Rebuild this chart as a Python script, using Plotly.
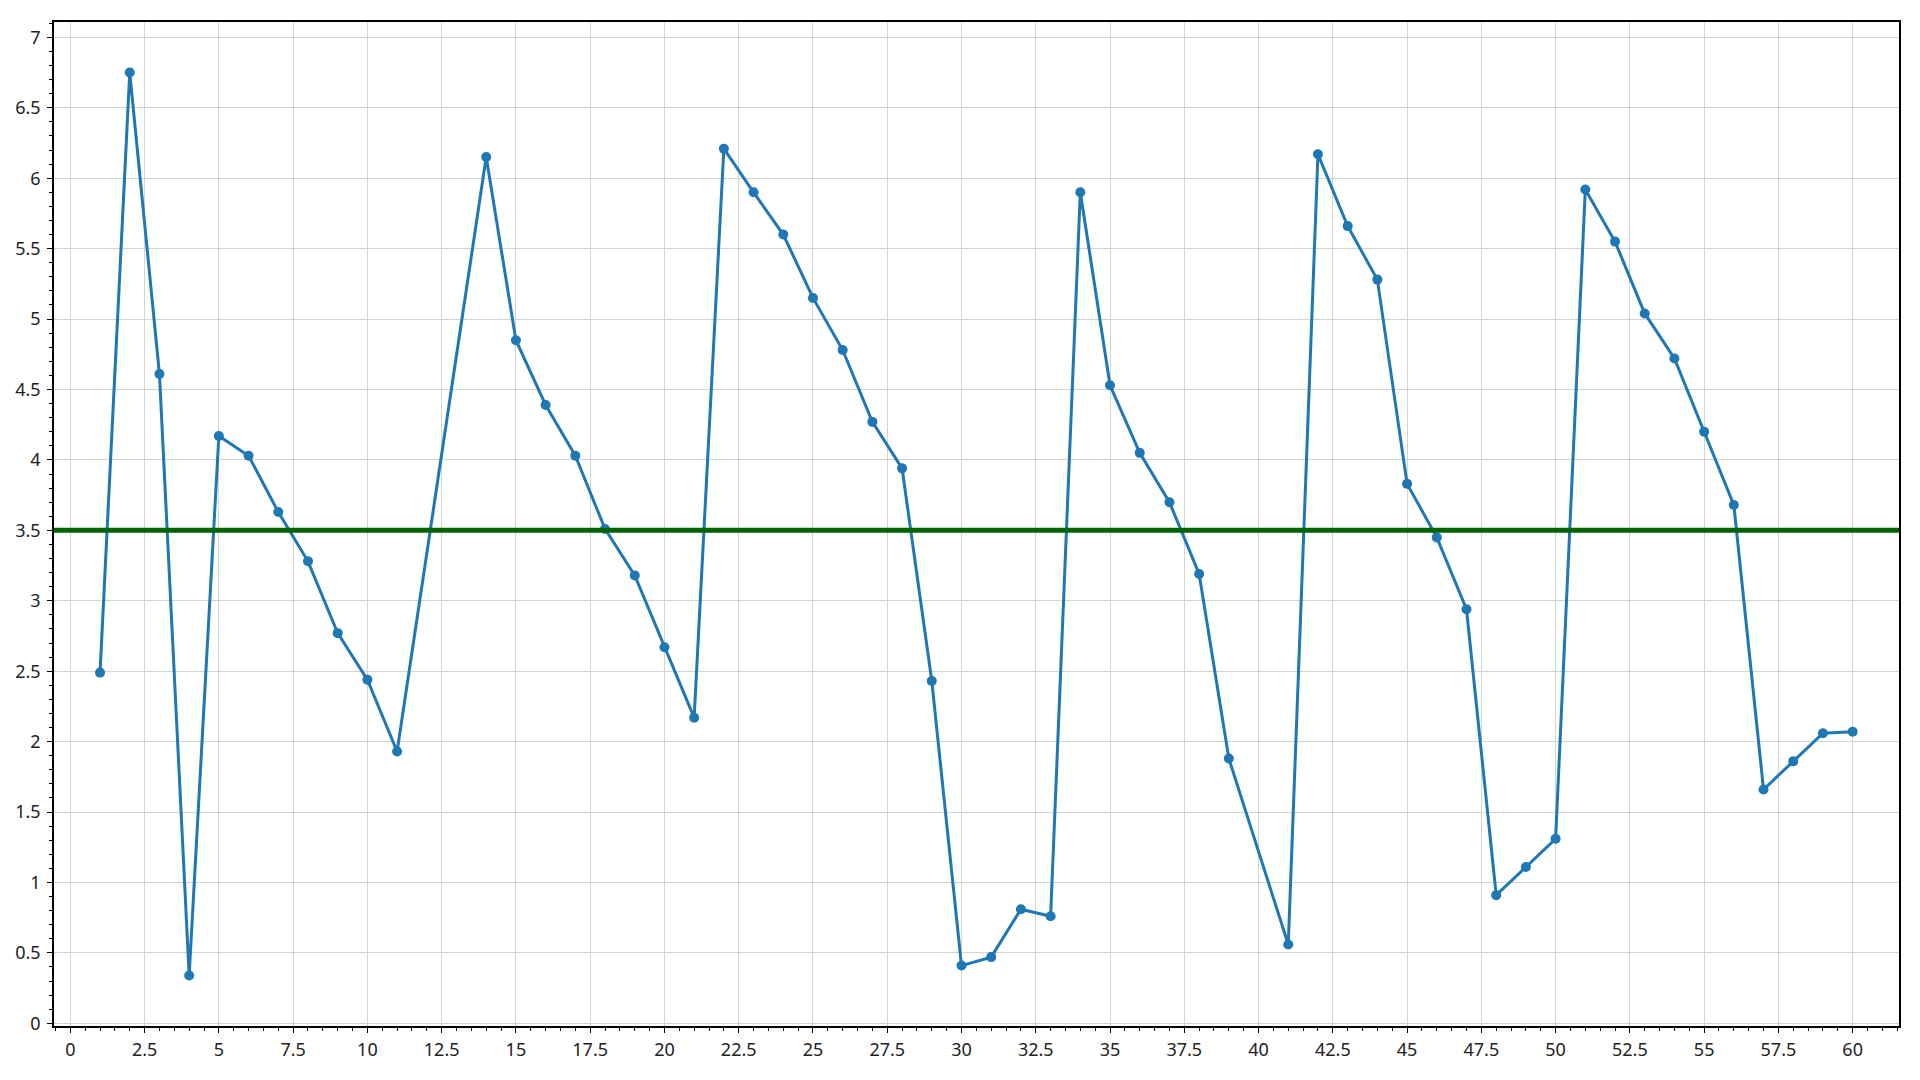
import plotly.graph_objects as go

# Data (x = index, 12, 13 and 40 missing)
x_vals = [1, 2, 3, 4, 5, 6, 7, 8, 9, 10, 11,
          14, 15, 16, 17, 18, 19, 20, 21, 22, 23, 24, 25, 26, 27, 28, 29, 30,
          31, 32, 33, 34, 35, 36, 37, 38, 39,
          41, 42, 43, 44, 45, 46, 47, 48, 49, 50,
          51, 52, 53, 54, 55, 56, 57, 58, 59, 60]
y_vals = [2.49, 6.75, 4.61, 0.34, 4.17, 4.03, 3.63, 3.28, 2.77, 2.44, 1.93,
          6.15, 4.85, 4.39, 4.03, 3.51, 3.18, 2.67, 2.17, 6.21, 5.90, 5.60, 5.15, 4.78, 4.27, 3.94, 2.43, 0.41,
          0.47, 0.81, 0.76, 5.90, 4.53, 4.05, 3.70, 3.19, 1.88,
          0.56, 6.17, 5.66, 5.28, 3.83, 3.45, 2.94, 0.91, 1.11, 1.31,
          5.92, 5.55, 5.04, 4.72, 4.20, 3.68, 1.66, 1.86, 2.06, 2.07]
threshold = 3.5

x_range = [-0.55, 61.56]
y_range = [-0.019, 7.109]

fig = go.Figure()
fig.add_trace(go.Scatter(
    x=x_vals, y=y_vals, mode="lines+markers",
    line=dict(color="#1f77b4", width=3),
    marker=dict(color="#1f77b4", size=10),
    showlegend=False,
))
fig.add_hline(y=threshold, line=dict(color="#006400", width=5), layer="above")

font = dict(family="Noto Sans, Open Sans, sans-serif", size=18, color="#222222")

fig.update_layout(
    width=1920, height=1080,
    margin=dict(l=54, r=21, t=22, b=54),
    paper_bgcolor="white", plot_bgcolor="white",
    font=font,
    showlegend=False,
)
fig.update_xaxes(
    range=x_range, tick0=0, dtick=2.5,
    showgrid=True, gridcolor="#d3d3d3", gridwidth=1,
    zeroline=False,
    showline=True, linecolor="black", linewidth=1.5, mirror=True,
    ticks="outside", ticklen=5, tickcolor="black", tickwidth=1,
    minor=dict(dtick=0.5, tick0=0, ticks="outside", ticklen=3, tickcolor="black", showgrid=False),
    tickfont=font, ticklabelstandoff=2,
)
fig.update_yaxes(
    range=y_range, tick0=0, dtick=0.5,
    showgrid=True, gridcolor="#d3d3d3", gridwidth=1,
    zeroline=False,
    showline=True, linecolor="black", linewidth=1.5, mirror=True,
    ticks="outside", ticklen=5, tickcolor="black", tickwidth=1,
    minor=dict(dtick=0.1, tick0=0, ticks="outside", ticklen=3, tickcolor="black", showgrid=False),
    tickfont=font, ticklabelstandoff=3,
)

fig.write_html(
    "out.html",
    config={"displayModeBar": False},
    post_script="document.body.style.margin='0';document.body.style.overflow='hidden';",
)
